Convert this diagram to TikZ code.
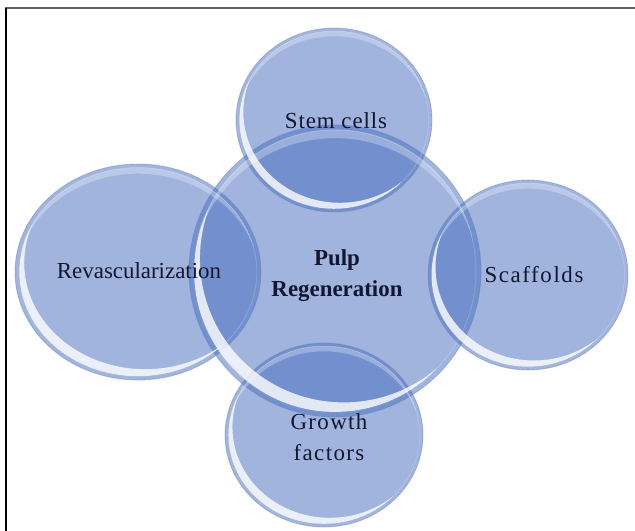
\documentclass[tikz,border=0pt]{standalone}
\usepackage{fontspec}
\setmainfont{Liberation Serif}
\usetikzlibrary{shapes.geometric}

\definecolor{ballblue}{RGB}{75,113,192}
\definecolor{balledge}{RGB}{110,130,175}
\definecolor{inknavy}{RGB}{18,22,48}
\definecolor{framegray}{RGB}{95,95,95}

\tikzset{
  ball/.style={ellipse, inner sep=0pt, fill=ballblue, fill opacity=0.53,
               draw=balledge, draw opacity=0.4, line width=0.8bp},
  balltext/.style={align=center, text=inknavy, inner sep=0pt,
                   font=\fontsize{23}{31}\selectfont},
}

% glass shine on a ball: white crescent low-left, soft band at the top
\newcommand\glassshine[3]{%
  \begin{scope}[shift={(#1.center)}, xscale=#2, yscale=#3]
    \begin{scope}
      \clip (0,0) circle (0.965);
      \fill[white, fill opacity=0.8, even odd rule]
        (0,0) circle (0.965) (0.06,-0.085) circle (0.985);
    \end{scope}
    \begin{scope}
      \clip (0,0) circle (0.97);
      \fill[white, fill opacity=0.28, even odd rule]
        (0,0) circle (0.97) (0,0.08) circle (0.99);
    \end{scope}
  \end{scope}}

\begin{document}
\begin{tikzpicture}[x=1bp, y=-1bp]
  \useasboundingbox (0,0) rectangle (635,531);

  % frame
  \draw[framegray, line width=2bp] (5,8.5) -- (635,8.5);
  \draw[black, line width=2bp] (6,8) -- (6,531);

  % balls
  \node[ball, minimum width=292bp, minimum height=292bp] (hub)    at (335,271) {};
  \node[ball, minimum width=196bp, minimum height=184bp] (stem)   at (334,120) {};
  \node[ball, minimum width=246bp, minimum height=216bp] (revasc) at (138,272) {};
  \node[ball, minimum width=200bp, minimum height=190bp] (scaff)  at (528,275) {};
  \node[ball, minimum width=198bp, minimum height=184bp] (growth) at (324,435) {};

  \glassshine{hub}{146}{146}
  \glassshine{stem}{98}{92}
  \glassshine{revasc}{123}{108}
  \glassshine{scaff}{100}{95}
  \glassshine{growth}{99}{92}

  % labels
  \node[balltext] (hub-text)    at (337,276) {\bfseries Pulp\\\bfseries Regeneration};
  \node[balltext] (stem-text)   at (336,121) {\addfontfeature{LetterSpace=4}Stem cells};
  \node[balltext] (revasc-text) at (139,271) {Revascularization};
  \node[balltext] (scaff-text)  at (534,275) {\addfontfeature{LetterSpace=7}Scaffolds};
  \node[balltext] (growth-text) at (329,437) {\addfontfeature{LetterSpace=6}Growth\\\addfontfeature{LetterSpace=6}factors};
\end{tikzpicture}
\end{document}
